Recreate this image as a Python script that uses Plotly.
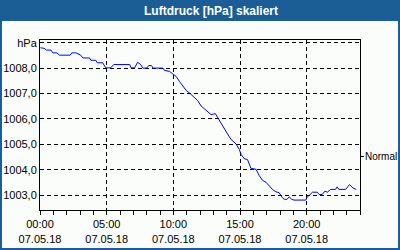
import plotly.graph_objects as go

title_text = "Luftdruck [hPa] skaliert"
times = ["00:02", "00:18", "00:29", "00:49", "00:58", "01:16", "01:28", "02:16", "02:23", "02:41",
         "03:03", "03:13", "03:43", "03:49", "04:11", "04:18", "04:42", "04:56", "05:18", "05:32",
         "06:44", "06:50", "07:06", "07:19", "07:33", "07:43", "08:00", "08:09", "08:22", "08:29",
         "09:13", "09:20", "09:43", "09:58", "10:13", "10:28", "10:43", "10:58", "11:13", "11:27",
         "11:50", "12:05", "12:27", "12:50", "13:09", "13:20", "13:35", "13:50", "14:04", "14:20",
         "14:42", "14:57", "15:05", "15:19", "15:34", "15:49", "16:12", "16:27", "16:41", "16:57",
         "17:11", "17:26", "17:41", "17:56", "18:11", "18:19", "18:32", "18:41", "18:53", "19:03",
         "19:56", "20:03", "20:11", "20:26", "20:48", "20:56", "21:10", "21:22", "21:33", "21:48",
         "22:10", "22:17", "22:25", "22:55", "23:13", "23:28", "23:43"]
pressure = [1008.80, 1008.78, 1008.71, 1008.71, 1008.60, 1008.60, 1008.51, 1008.51, 1008.60, 1008.60,
            1008.51, 1008.40, 1008.40, 1008.31, 1008.31, 1008.21, 1008.21, 1008.01, 1008.01, 1008.14,
            1008.14, 1008.01, 1008.01, 1008.23, 1008.14, 1008.00, 1008.00, 1008.10, 1008.10, 1008.00,
            1008.00, 1007.91, 1007.87, 1007.78, 1007.67, 1007.47, 1007.28, 1007.12, 1007.02, 1006.91,
            1006.72, 1006.51, 1006.34, 1006.17, 1006.21, 1006.04, 1005.84, 1005.58, 1005.41, 1005.19,
            1005.02, 1004.80, 1004.60, 1004.44, 1004.40, 1004.06, 1004.02, 1003.77, 1003.59, 1003.51,
            1003.38, 1003.23, 1003.14, 1003.10, 1002.90, 1002.84, 1002.84, 1002.94, 1002.84, 1002.81,
            1002.81, 1002.94, 1002.99, 1003.12, 1003.12, 1003.03, 1003.03, 1003.16, 1003.12, 1003.23,
            1003.23, 1003.33, 1003.23, 1003.23, 1003.42, 1003.29, 1003.23]
date = "2018-05-07"
x_tick_hours = ["00:00", "05:00", "10:00", "15:00", "20:00"]
x_tick_date = "07.05.18"
y_tick_vals = [1003, 1004, 1005, 1006, 1007, 1008, 1009]
y_tick_text = ["1003,0", "1004,0", "1005,0", "1006,0", "1007,0", "1008,0", "hPa"]
normal_level = 1004.52
normal_label = "Normal"

x = [f"{date} {t}" for t in times]
font = dict(family="Liberation Sans", size=11, color="black")
blue = "#1B5E95"
bg = "#FAFDFA"
y_range = [1002.42, 1009.106]

fig = go.Figure()
fig.add_trace(go.Scatter(x=x, y=pressure, mode="lines",
                         line=dict(color="#0000FF", width=1), showlegend=False, hoverinfo="skip"))
fig.add_trace(go.Scatter(x=[None], y=[None], yaxis="y2", showlegend=False, hoverinfo="skip"))

fig.update_layout(
    width=400, height=250,
    margin=dict(l=40, r=40, t=40, b=40, autoexpand=False),
    paper_bgcolor=blue, plot_bgcolor=bg,
    font=font,
    title=dict(text=f"<b>{title_text}</b>", xref="container", yref="container",
               x=211 / 400, y=1 - 10.5 / 250, xanchor="center", yanchor="middle",
               font=dict(family="Liberation Sans", size=12, color="white")),
    xaxis=dict(
        range=[f"{date} 00:00", "2018-05-08 00:00"],
        tickmode="array",
        tickvals=[f"{date} {h}" for h in x_tick_hours],
        ticktext=[f"{h}<br>{x_tick_date}" for h in x_tick_hours],
        ticks="outside", ticklen=4, tickcolor="black", tickwidth=1,
        minor=dict(dtick=3600000, tick0=f"{date} 00:00", ticks="outside", ticklen=4,
                   tickcolor="black", showgrid=False),
        showgrid=True, gridcolor="black", gridwidth=1, griddash="4px,3px",
        showline=True, linecolor="black", linewidth=1, mirror=True,
        zeroline=False, tickfont=font, ticklabelstandoff=0, automargin=False,
    ),
    yaxis=dict(
        range=y_range,
        tickmode="array", tickvals=y_tick_vals, ticktext=y_tick_text,
        ticks="", showgrid=True, gridcolor="black", gridwidth=1, griddash="4px,3px",
        showline=True, linecolor="black", linewidth=1, mirror=True,
        zeroline=False, tickfont=font, automargin=False,
    ),
    yaxis2=dict(
        range=y_range, overlaying="y", side="right",
        tickmode="array", tickvals=[normal_level], ticktext=[""],
        ticks="outside", ticklen=3, tickcolor="black",
        showgrid=False, showline=False, zeroline=False, automargin=False,
    ),
    annotations=[dict(text=normal_label, xref="paper", yref="y", x=(364.5 - 40) / 320,
                      y=normal_level, xanchor="left", yanchor="middle", showarrow=False,
                      borderpad=0, borderwidth=0,
                      font=dict(family="Liberation Sans", size=10, color="black"))],
    shapes=[dict(type="rect", xref="paper", yref="paper", layer="below",
                 x0=(2 - 40) / 320, x1=(398 - 40) / 320,
                 y0=(210 - 248) / 170, y1=(210 - 21) / 170,
                 fillcolor=bg, line=dict(width=0))],
)

fig.write_html("out.html")
